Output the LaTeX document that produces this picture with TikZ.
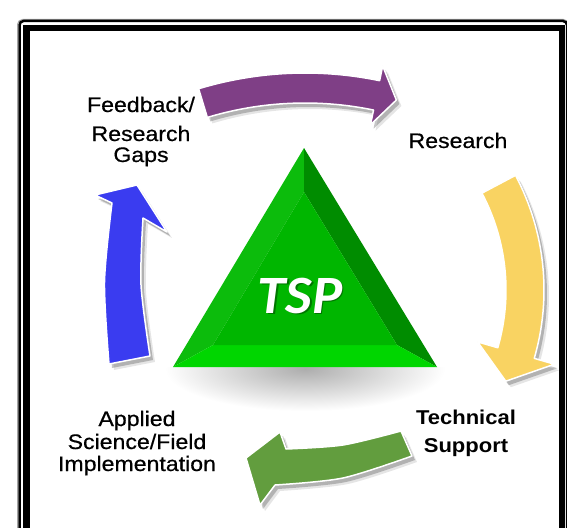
\documentclass[tikz,border=0pt]{standalone}
\usepackage{fontspec}
\setmainfont{Liberation Sans}
\newfontfamily\lblfont[FakeBold=0.5]{Liberation Sans}
\newfontfamily\tspfont{Carlito}
\usetikzlibrary{calc}
\definecolor{purp}{RGB}{127,63,134}
\definecolor{yel}{RGB}{249,211,98}
\definecolor{blu}{RGB}{58,60,240}
\definecolor{grn}{RGB}{98,157,62}
\definecolor{gface}{RGB}{0,182,0}
\definecolor{gleft}{RGB}{12,188,12}
\definecolor{gright}{RGB}{0,140,0}
\definecolor{gbottom}{RGB}{0,214,0}
\def\purplepath{($(305,441)+(-106.8:368)$) arc[start angle=-106.8,end angle=-78.3,radius=368] -- ($(305,441)+(-78.3:383)$) -- ($(305,441)+(-75:353)$) -- ($(305,441)+(-78.3:323)$) -- ($(305,441)+(-78.3:338)$) arc[start angle=-78.3,end angle=-106.8,radius=338] -- cycle}
\def\yellowpath{($(299,290)+(-27.9:245)$) arc[start angle=-27.9,end angle=16.2,radius=245] -- ($(299,290)+(16.2:266)$) -- ($(299,290)+(23.8:226)$) -- ($(299,290)+(16.2:186)$) -- ($(299,290)+(16.2:207)$) arc[start angle=16.2,end angle=-27.9,radius=207] -- cycle}
\def\bluepath{plot[smooth] coordinates {(109,364) (104.5,282) (112,203)} -- (95,195) -- (137,185) -- (167,232) -- plot[smooth] coordinates {(143,218) (141,285) (150,356)} -- cycle}
\def\greenpath{plot[smooth] coordinates {(401,431) (343,445) (286,449)} -- (280,432) -- (246,458) -- (260,505) -- plot[smooth] coordinates {(275,485) (343,478) (412,456)} -- cycle}
\newcommand\blockarrow[2]{%
  \begin{scope}[shift={(5,6)}]\fill[black,opacity=.10] #1;\end{scope}
  \begin{scope}[shift={(3,4)}]\fill[black,opacity=.22] #1;\end{scope}
  \filldraw[fill=#2,draw=white,line width=1.5pt,line join=round] #1;}
\tikzset{
  lbl/.style={font=\lblfont\fontsize{21}{21}\selectfont, xscale=1.1, anchor=base, inner sep=0pt},
  lblb/.style={font=\bfseries\fontsize{20}{20}\selectfont, xscale=1.1, anchor=base, inner sep=0pt},
  facet/.style={line join=round}
}
\begin{document}
\begin{tikzpicture}[x=1pt,y=-1pt]
\useasboundingbox (0,0) rectangle (567,527);
\fill[white] (0,0) rectangle (567,527);
% frame
\begin{scope}
\clip (0,0) rectangle (567,527);
\draw[black!35,line width=1pt,rounded corners=5pt] (17.5,19.5) rectangle (568.5,545);
\draw[black,line width=2.5pt,rounded corners=4pt] (19.5,21) rectangle (567,545);
\draw[black,line width=6.5pt] (26.5,28) rectangle (562,545);
\end{scope}
% triangle shadow
\begin{scope}
\clip (150,367) rectangle (460,430);
\shade[inner color=black!32, outer color=white] (305,369) ellipse [x radius=140, y radius=42];
\end{scope}
% triangle
\coordinate (A) at (304,148);
\coordinate (B) at (173,367);
\coordinate (C) at (437,367);
\coordinate (a) at (304,192);
\coordinate (b) at (213,345);
\coordinate (c) at (397,345);
\fill[gleft,facet] (A) -- (B) -- (b) -- (a) -- cycle;
\fill[gright,facet] (A) -- (a) -- (c) -- (C) -- cycle;
\fill[gbottom,facet] (B) -- (C) -- (c) -- (b) -- cycle;
\fill[gface,facet] (a) -- (b) -- (c) -- cycle;
\node[text=black, opacity=.35, font=\tspfont\bfseries\itshape\fontsize{54}{54}\selectfont, xscale=1.05] (tspsh) at (301.5,297.5) {TSP};
\node[text=white, font=\tspfont\bfseries\itshape\fontsize{54}{54}\selectfont, xscale=1.05] (tsp) at (300,296) {TSP};
% arrows
\blockarrow{\purplepath}{purp}
\blockarrow{\yellowpath}{yel}
\blockarrow{\bluepath}{blu}
\blockarrow{\greenpath}{grn}
% labels
\node[lbl] (fb1) at (141,112) {Feedback/};
\node[lbl] (fb2) at (141,141) {Research};
\node[lbl] (fb3) at (141,162) {Gaps};
\node[lbl] (res) at (458,148) {Research};
\node[lbl] (ap1) at (137,426) {Applied};
\node[lbl] (ap2) at (137,449) {Science/Field};
\node[lbl] (ap3) at (137,471) {Implementation};
\node[lblb] (ts1) at (466,424) {Technical};
\node[lblb] (ts2) at (466,452) {Support};
\end{tikzpicture}
\end{document}
